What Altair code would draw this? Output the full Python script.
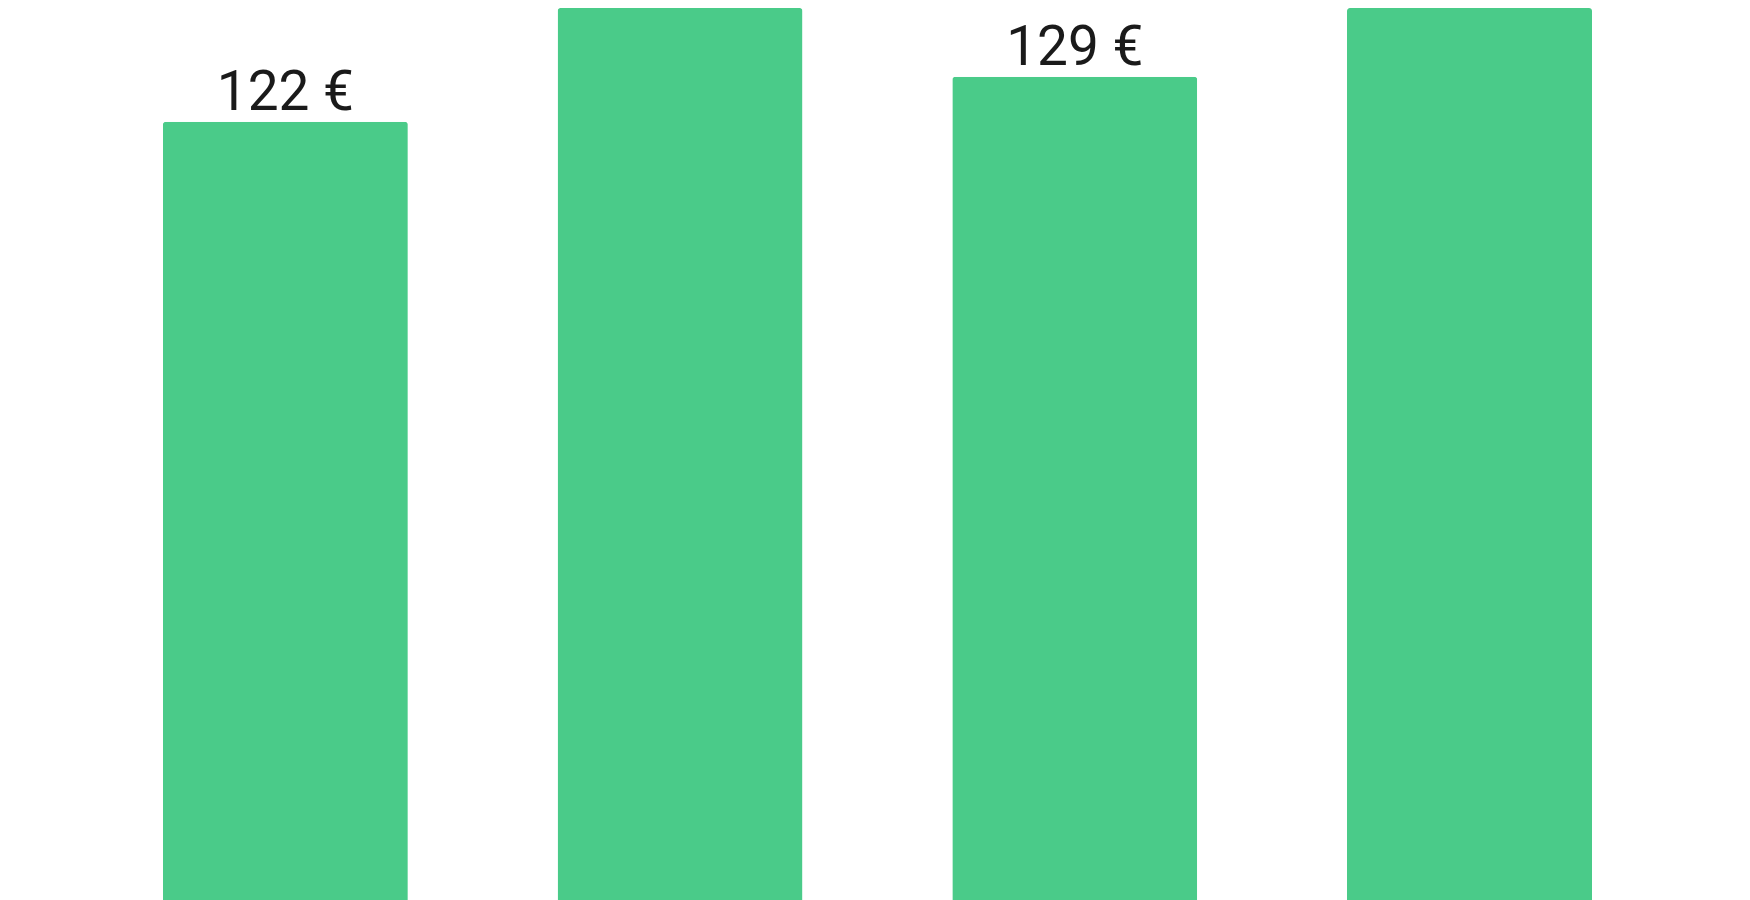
"""
Monthly spend bars, green theme.
"""

import altair as alt
import pandas as pd

# data
periods = ["P1", "P2", "P3", "P4"]
amounts = [122, 147, 129, 152]
labels = [f"{v} €" for v in amounts]

df = pd.DataFrame({"Period": periods, "Amount": amounts, "Label": labels})

y_top = 139.7

x = alt.X(
    "Period:N",
    sort=periods,
    axis=None,
    scale=alt.Scale(paddingInner=0.3793, paddingOuter=0.3862, align=0.508),
)
y = alt.Y(
    "Amount:Q",
    axis=None,
    scale=alt.Scale(domain=[0, y_top], nice=False, clamp=True),
)

bars = (
    alt.Chart(df)
    .mark_bar(color="#4acb89", cornerRadiusTopLeft=3, cornerRadiusTopRight=3)
    .encode(x=x, y=y)
)

# labels over the bars that fit; the taller ones run off the top
text = (
    alt.Chart(df)
    .transform_filter(alt.datum.Amount < y_top)
    .mark_text(
        dy=-12,
        baseline="alphabetic",
        fontSize=55,
        font="Roboto",
        color="#1a1a1a",
    )
    .encode(x=x, y=y, text="Label:N")
)

chart = (
    (bars + text)
    .properties(
        width=1734,
        height=898,
        autosize=alt.AutoSizeParams(type="none"),
        padding=0,
    )
    .configure_view(strokeWidth=0)
)

chart.save("out.html", embed_options={"renderer": "svg", "actions": False})
